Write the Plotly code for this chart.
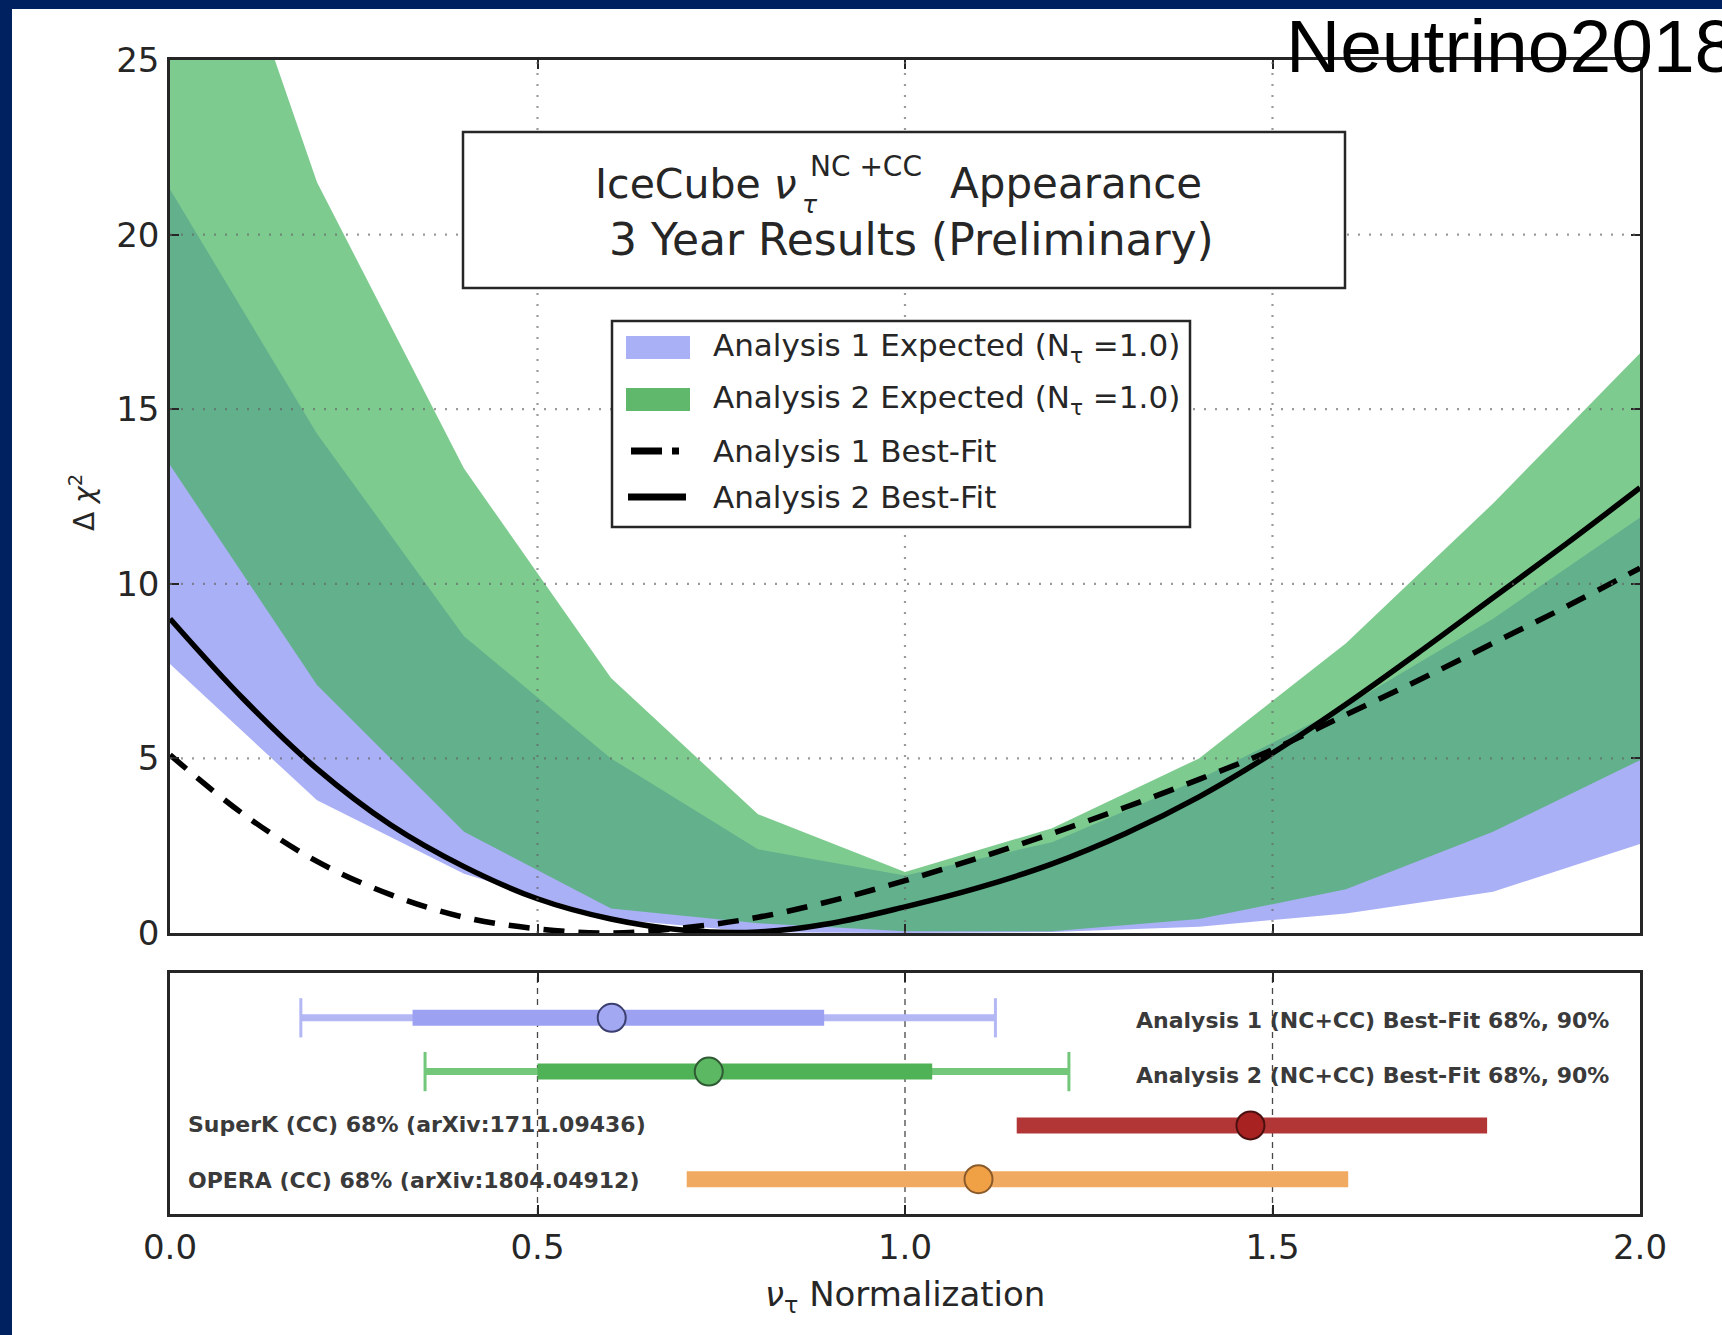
import plotly.graph_objects as go

# ---------------------------------------------------------------- data
# Expected-sensitivity bands, sampled every 0.2 in tau normalization
band_x = [0.0, 0.2, 0.4, 0.6, 0.8, 1.0, 1.2, 1.4, 1.6, 1.8, 2.0]
a1_exp_lo = [7.7, 3.8, 1.7, 0.4, 0.02, 0.0, 0.03, 0.18, 0.56, 1.18, 2.55]
a1_exp_hi = [21.3, 14.3, 8.5, 5.0, 2.4, 1.65, 2.6, 4.4, 6.5, 9.0, 11.9]
a2_exp_lo = [13.4, 7.1, 2.9, 0.7, 0.28, 0.05, 0.05, 0.4, 1.25, 2.9, 4.95]
a2_exp_hi = [33.7, 21.5, 13.3, 7.3, 3.4, 1.75, 3.0, 5.0, 8.3, 12.3, 16.6]

# Best-fit delta chi^2 profiles
fit_x = [0.0, 0.1, 0.2, 0.3, 0.4, 0.5, 0.6, 0.7, 0.8, 0.9, 1.0,
         1.1, 1.2, 1.3, 1.4, 1.5, 1.6, 1.7, 1.8, 1.9, 2.0]
a1_fit = [5.1, 3.4, 2.05, 1.1, 0.45, 0.12, 0.0, 0.15, 0.45, 0.92, 1.5,
          2.15, 2.85, 3.6, 4.4, 5.25, 6.25, 7.25, 8.3, 9.35, 10.45]
a2_fit = [9.0, 6.7, 4.7, 3.1, 1.9, 0.98, 0.4, 0.08, 0.03, 0.28, 0.75,
          1.3, 1.98, 2.85, 3.9, 5.15, 6.55, 8.05, 9.6, 11.15, 12.75]

# Measured normalizations (lower panel)
meas_labels = ["Analysis 1 (NC+CC) Best-Fit 68%, 90%",
               "Analysis 2 (NC+CC) Best-Fit 68%, 90%",
               "SuperK (CC) 68% (arXiv:1711.09436)",
               "OPERA (CC) 68% (arXiv:1804.04912)"]
meas_best = [0.601, 0.733, 1.470, 1.100]
meas_lo68 = [0.330, 0.500, 1.152, 0.703]
meas_hi68 = [0.890, 1.037, 1.792, 1.603]
meas_lo90 = [0.178, 0.347, None, None]
meas_hi90 = [1.123, 1.223, None, None]
meas_row = [4, 3, 2, 1]

x_ticks = [0.0, 0.5, 1.0, 1.5, 2.0]
y_ticks = [0, 5, 10, 15, 20, 25]

# ---------------------------------------------------------------- styling
W, H = 1722, 1335
FONT = "DejaVu Sans"
INK = "#262626"
L, R = 170, 1640          # plot area left/right (px)
T1, B1 = 60, 933          # upper panel top/bottom (px)
T2, B2 = 973, 1214        # lower panel top/bottom (px)


def fx(p):
    return p / W


def fy(p):
    return 1 - p / H


thin_col = ["#b3b7f4", "#72c77a"]
thick_col = ["#9ca2f1", "#4fb257", "#b23636", "#f1aa62"]
dot_col = ["#a3a8f2", "#5cb863", "#a82222", "#f0a045"]
dot_edge = ["#3b3f70", "#2f5a33", "#4a1010", "#8a5a2a"]

fig = go.Figure()

# expected bands
fig.add_trace(go.Scatter(x=band_x, y=a1_exp_lo, mode="lines", line=dict(width=0),
                         hoverinfo="skip", showlegend=False))
fig.add_trace(go.Scatter(x=band_x, y=a1_exp_hi, mode="lines", line=dict(width=0),
                         fill="tonexty", fillcolor="#aab0f5", showlegend=False))
fig.add_trace(go.Scatter(x=band_x, y=a2_exp_lo, mode="lines", line=dict(width=0),
                         hoverinfo="skip", showlegend=False))
fig.add_trace(go.Scatter(x=band_x, y=a2_exp_hi, mode="lines", line=dict(width=0),
                         fill="tonexty", fillcolor="rgba(63,178,88,0.67)", showlegend=False))

# best-fit curves
fig.add_trace(go.Scatter(x=fit_x, y=a1_fit, mode="lines",
                         line=dict(color="black", width=5.5, dash="21px,14px",
                                   shape="spline", smoothing=1.0),
                         showlegend=False))
fig.add_trace(go.Scatter(x=fit_x, y=a2_fit, mode="lines",
                         line=dict(color="black", width=5.5, shape="spline", smoothing=1.0),
                         showlegend=False))

# lower panel intervals
for i in range(len(meas_best)):
    r = meas_row[i]
    if meas_lo90[i] is not None:
        fig.add_trace(go.Scatter(x=[meas_lo90[i], meas_hi90[i]], y=[r, r], mode="lines",
                                 line=dict(color=thin_col[i], width=7),
                                 xaxis="x2", yaxis="y2", showlegend=False))
        fig.add_trace(go.Scatter(x=[meas_lo90[i], meas_hi90[i]], y=[r, r], mode="markers",
                                 marker=dict(symbol="line-ns", size=28,
                                             line=dict(color=thin_col[i], width=3)),
                                 xaxis="x2", yaxis="y2", showlegend=False))
    fig.add_trace(go.Scatter(x=[meas_lo68[i], meas_hi68[i]], y=[r, r], mode="lines",
                             line=dict(color=thick_col[i], width=16),
                             xaxis="x2", yaxis="y2", showlegend=False))
    fig.add_trace(go.Scatter(x=[meas_best[i]], y=[r], mode="markers",
                             marker=dict(symbol="circle", size=28, color=dot_col[i],
                                         line=dict(color=dot_edge[i], width=2)),
                             xaxis="x2", yaxis="y2", showlegend=False))

# ---------------------------------------------------------------- shapes
shapes = [
    # white page inside the navy frame
    dict(type="rect", xref="paper", yref="paper", x0=fx(12), x1=1, y0=0, y1=fy(9),
         fillcolor="white", line=dict(width=0), layer="below"),
]
grid_line = dict(color="rgba(100,100,100,0.65)", width=2.2, dash="2px,9px")
for xv in x_ticks[1:-1]:
    shapes.append(dict(type="line", xref="x", yref="y", x0=xv, x1=xv, y0=0, y1=25,
                       line=grid_line, layer="above"))
for yv in y_ticks[1:-1]:
    shapes.append(dict(type="line", xref="x", yref="y", x0=0, x1=2, y0=yv, y1=yv,
                       line=grid_line, layer="above"))
for xv in x_ticks[1:-1]:
    shapes.append(dict(type="line", xref="x2", yref="y2 domain", x0=xv, x1=xv, y0=0, y1=1,
                       line=dict(color="rgba(40,40,40,0.85)", width=1.3, dash="6px,5px"),
                       layer="below"))

# title box
shapes.append(dict(type="rect", xref="paper", yref="paper",
                   x0=fx(463), x1=fx(1345), y0=fy(288), y1=fy(132),
                   fillcolor="white", line=dict(color=INK, width=2.5), layer="above"))
# legend box and keys
shapes.append(dict(type="rect", xref="paper", yref="paper",
                   x0=fx(612), x1=fx(1190), y0=fy(527), y1=fy(321),
                   fillcolor="white", line=dict(color=INK, width=2.5), layer="above"))
shapes.append(dict(type="rect", xref="paper", yref="paper",
                   x0=fx(626), x1=fx(690), y0=fy(359), y1=fy(336),
                   fillcolor="#aab0f5", line=dict(width=0), layer="above"))
shapes.append(dict(type="rect", xref="paper", yref="paper",
                   x0=fx(626), x1=fx(690), y0=fy(411), y1=fy(388),
                   fillcolor="#5fb86c", line=dict(width=0), layer="above"))
shapes.append(dict(type="line", xref="paper", yref="paper",
                   x0=fx(631), x1=fx(679), y0=fy(451), y1=fy(451),
                   line=dict(color="black", width=7, dash="31px,10px"), layer="above"))
shapes.append(dict(type="line", xref="paper", yref="paper",
                   x0=fx(628), x1=fx(686), y0=fy(497), y1=fy(497),
                   line=dict(color="black", width=7), layer="above"))

# ---------------------------------------------------------------- text
def note(text, x, y, size, xanchor="left", color=INK, family=FONT, angle=0):
    return dict(text=text, x=fx(x), y=fy(y), xref="paper", yref="paper",
                xanchor=xanchor, yanchor="middle", showarrow=False, textangle=angle,
                font=dict(family=family, size=size, color=color))


annotations = [
    note("Neutrino2018", 1284, 46, 75, color="black", family="Liberation Sans"),
    note("IceCube <i>ν</i>", 799, 184, 41, xanchor="right"),
    note("NC +CC", 808, 166, 28),
    note("<i>τ</i>", 800, 205, 25),
    note("Appearance", 948, 184, 42),
    note("3 Year Results (Preliminary)", 911, 239, 44, xanchor="center"),
    note("Analysis 1 Expected (N<sub>τ</sub> =1.0)", 711, 347, 31),
    note("Analysis 2 Expected (N<sub>τ</sub> =1.0)", 711, 399, 31),
    note("Analysis 1 Best-Fit", 711, 451, 31),
    note("Analysis 2 Best-Fit", 711, 497, 31),
    note("Δ <i>χ</i><sup>2</sup>", 82, 503, 28, xanchor="center", angle=-90),
    note("<i>ν</i><sub>τ</sub> Normalization", 905, 1296, 34, xanchor="center"),
    note("<b>" + meas_labels[0] + "</b>", 1611, 1020, 22, xanchor="right", color="#3a3a3a"),
    note("<b>" + meas_labels[1] + "</b>", 1611, 1075, 22, xanchor="right", color="#3a3a3a"),
    note("<b>" + meas_labels[2] + "</b>", 186, 1124, 22, color="#3a3a3a"),
    note("<b>" + meas_labels[3] + "</b>", 186, 1180, 22, color="#3a3a3a"),
]

axis_common = dict(showline=True, linewidth=2.5, linecolor=INK, mirror="allticks",
                   ticks="inside", ticklen=9, tickwidth=2, tickcolor=INK,
                   showgrid=False, zeroline=False, automargin=False,
                   tickfont=dict(family=FONT, size=34, color=INK))

fig.update_layout(
    template="none",
    width=W, height=H, autosize=False,
    margin=dict(l=0, r=0, t=0, b=0, pad=0, autoexpand=False),
    paper_bgcolor="#00215f", plot_bgcolor="white",
    showlegend=False,
    xaxis=dict(domain=[fx(L), fx(R)], range=[0, 2], anchor="y",
               tickvals=x_ticks, showticklabels=False, **axis_common),
    yaxis=dict(domain=[fy(B1), fy(T1)], range=[0, 25], anchor="x",
               tickvals=y_ticks, ticklabelstandoff=1, **axis_common),
    xaxis2=dict(domain=[fx(L), fx(R)], range=[0, 2], anchor="y2",
                tickvals=x_ticks, ticktext=["%.1f" % v for v in x_ticks],
                ticklabelstandoff=1, **axis_common),
    yaxis2=dict(domain=[fy(B2), fy(T2)], range=[0.353, 4.833], anchor="x2",
                showticklabels=False, ticks="", showline=True, linewidth=2.5,
                linecolor=INK, mirror=True, showgrid=False, zeroline=False,
                automargin=False),
    shapes=shapes,
    annotations=annotations,
)

fig.write_html("out.html", config=dict(displayModeBar=False))
